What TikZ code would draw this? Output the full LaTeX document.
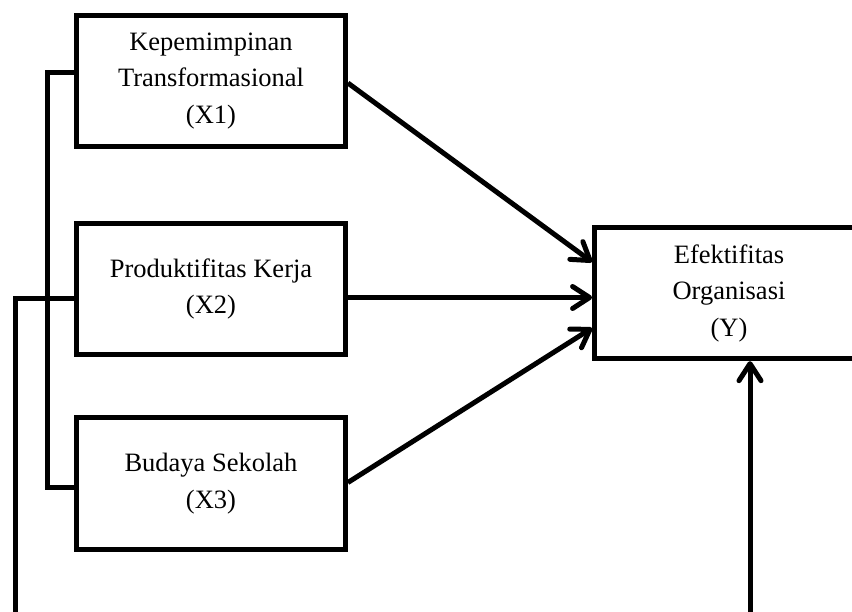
\documentclass[tikz,border=0pt]{standalone}
\usepackage{fontspec}
\setmainfont{Liberation Serif}
\usetikzlibrary{arrows.meta}
\begin{document}
\begin{tikzpicture}[x=1pt,y=-1pt,
  box/.style={draw, line width=4.8pt, minimum width=269pt, minimum height=131.5pt, inner sep=0pt, align=center, font=\fontsize{26.5}{36.5}\selectfont},
  conn/.style={line width=5pt},
  arr/.style={conn, -{Straight Barb[length=17pt,width=22pt,round]}}]
\useasboundingbox (0,0) rectangle (852,611);
\begin{scope}
\clip (0,0) rectangle (852,611);
\node[box] (X1) at (211,81) {Kepemimpinan\\Transformasional\\(X1)};
\node[box] (X2) at (211,289) {Produktifitas Kerja\\(X2)};
\node[box] (X3) at (211,483.5) {Budaya Sekolah\\(X3)};
\node[box] (Y) at (729,293) {Efektifitas\\Organisasi\\(Y)};
\coordinate (B1) at (15.5,615);
\coordinate (B2) at (750,615);
\draw[conn] ([yshift=9pt]X1.west) -- ++(-27,0) |- ([yshift=-3.5pt]X3.west);
\draw[conn] ([yshift=-9pt]X2.west) -| (B1);
\draw[arr] (B2) -- (Y.south -| B2);
\draw[arr] ([yshift=-2pt]X1.east) -- ([yshift=31pt]Y.west);
\draw[arr] ([yshift=-8.5pt]X2.east) -- ([yshift=-4.5pt]Y.west);
\draw[arr] ([yshift=1pt]X3.east) -- ([yshift=-35pt]Y.west);
\end{scope}
\end{tikzpicture}
\end{document}
